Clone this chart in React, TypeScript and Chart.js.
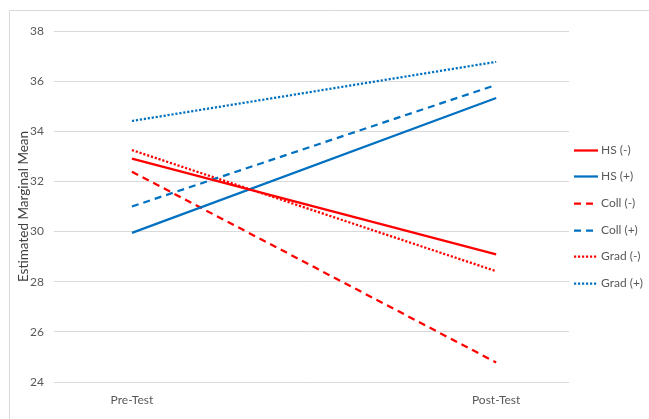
import React, { useEffect, useRef } from "react";
import { Chart, registerables } from "chart.js";

Chart.register(...registerables);

// Time points on the x axis
const categories = ["Pre-Test", "Post-Test"];

// Group labels
const seriesNames = ["HS (-)", "HS (+)", "Coll (-)", "Coll (+)", "Grad (-)", "Grad (+)"];

// Estimated marginal means at each time point
const hsNeg = [32.91, 29.09];
const hsPos = [29.95, 35.33];
const collNeg = [32.39, 24.78];
const collPos = [31.0, 35.85];
const gradNeg = [33.25, 28.42];
const gradPos = [34.41, 36.77];

// Y axis tick range
const yMin = 24;
const yMax = 38;
const yStep = 2;

const RED = "#FF0000";
const BLUE = "#0070C0";
const SOLID: number[] = [];
const DASH = [7, 5];
const DOT = [2.2, 1.8];

const FONT_FAMILY = "Lato, 'Liberation Sans', sans-serif";

const seriesValues = [hsNeg, hsPos, collNeg, collPos, gradNeg, gradPos];
const seriesColors = [RED, BLUE, RED, BLUE, RED, BLUE];
const seriesDashes = [SOLID, SOLID, DASH, DASH, DOT, DOT];

// Frame around the whole chart (top and left edges visible)
const framePlugin = {
  id: "frame",
  beforeDraw(chart: any) {
    const { ctx, width, height } = chart;
    ctx.save();
    ctx.fillStyle = "#ffffff";
    ctx.fillRect(0, 0, width, height);
    ctx.strokeStyle = "#d9d9d9";
    ctx.lineWidth = 1;
    ctx.beginPath();
    ctx.moveTo(9.5, height);
    ctx.lineTo(9.5, 10.5);
    ctx.lineTo(width, 10.5);
    ctx.stroke();
    ctx.restore();
  },
};

// Vertical legend on the right with line-style samples
const sideLegendPlugin = {
  id: "sideLegend",
  afterDraw(chart: any) {
    const { ctx } = chart;
    const x0 = 574;
    const lineLen = 24;
    const textX = 601;
    const yStart = 149.5;
    const rowGap = 26.7;
    ctx.save();
    chart.data.datasets.forEach((ds: any, i: number) => {
      const y = Math.round(yStart + i * rowGap) + 0.5;
      ctx.strokeStyle = ds.borderColor;
      ctx.lineWidth = 2.25;
      ctx.setLineDash(ds.borderDash || []);
      ctx.lineCap = "butt";
      ctx.beginPath();
      ctx.moveTo(x0, y);
      ctx.lineTo(x0 + lineLen, y);
      ctx.stroke();
      ctx.setLineDash([]);
      ctx.fillStyle = "#595959";
      ctx.font = `12px ${FONT_FAMILY}`;
      ctx.textBaseline = "middle";
      ctx.textAlign = "left";
      ctx.fillText(ds.label, textX, y);
    });
    ctx.restore();
  },
};

export default function App() {
  const canvasRef = useRef<HTMLCanvasElement | null>(null);

  useEffect(() => {
    if (!canvasRef.current) return;
    const datasets = seriesNames.map((name, i) => ({
      label: name,
      data: seriesValues[i].map((v, j) => ({ x: j, y: v })),
      borderColor: seriesColors[i],
      backgroundColor: seriesColors[i],
      borderDash: seriesDashes[i],
      borderWidth: 2.25,
      borderCapStyle: "butt" as const,
      pointRadius: 0,
      pointHoverRadius: 0,
      fill: false,
      tension: 0,
    }));

    const chart = new Chart(canvasRef.current, {
      type: "line",
      data: { datasets },
      plugins: [framePlugin, sideLegendPlugin],
      options: {
        animation: false,
        responsive: false,
        devicePixelRatio: 1,
        layout: { padding: { top: 31, right: 80, left: 0, bottom: 0 } },
        plugins: {
          legend: { display: false },
          tooltip: { enabled: false },
        },
        scales: {
          x: {
            type: "linear",
            min: -0.214,
            max: 1.2,
            afterBuildTicks: (scale: any) => {
              scale.ticks = categories.map((_, i) => ({ value: i }));
            },
            afterFit: (scale: any) => {
              scale.height = 37;
            },
            grid: { display: false, drawTicks: false },
            border: { display: false },
            ticks: {
              padding: 11,
              color: "#595959",
              font: { family: FONT_FAMILY, size: 12 },
              callback: (v: any) => categories[v as number] ?? "",
              maxRotation: 0,
              autoSkip: false,
            },
          },
          y: {
            min: yMin,
            max: yMax,
            afterFit: (scale: any) => {
              scale.width = 54;
            },
            grid: { color: "#d9d9d9", lineWidth: 1, drawTicks: false },
            border: { display: false },
            ticks: {
              stepSize: yStep,
              padding: 10,
              color: "#595959",
              font: { family: FONT_FAMILY, size: 12 },
            },
            title: {
              display: true,
              text: "Estimated Marginal Mean",
              color: "#404040",
              font: { family: FONT_FAMILY, size: 13.5 },
              padding: { top: 16, bottom: 0 },
            },
          },
        },
      },
    });
    return () => chart.destroy();
  }, []);

  return (
    <div style={{ position: "fixed", left: 0, top: 0, width: 649, height: 419, background: "#fff" }}>
      <canvas ref={canvasRef} width={649} height={419} style={{ display: "block", width: 649, height: 419 }} />
    </div>
  );
}
